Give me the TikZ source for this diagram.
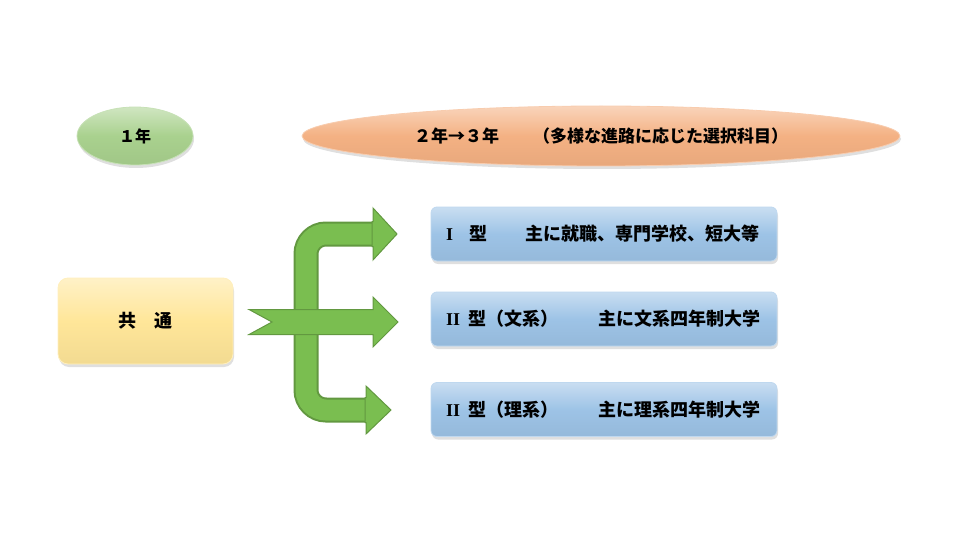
\documentclass[tikz,border=0pt]{standalone}
\usepackage{fontspec}
\setmainfont{Noto Sans CJK JP}
\newfontfamily\romanfont{Liberation Serif}
\usepackage{tikz}
\usetikzlibrary{shapes.geometric}
\usetikzlibrary{shadows}
\definecolor{nengreen}{RGB}{169,209,142}
\definecolor{nenorange}{RGB}{244,177,131}
\definecolor{kyoyellow}{RGB}{255,230,153}
\definecolor{katablue}{RGB}{157,195,230}
\definecolor{yajigreen}{RGB}{122,190,80}
\newcommand{\katawidth}{346pt}
\newcommand{\kataheight}{54pt}
\newcommand{\yajiwidth}{25pt}

\tikzset{
	bevel/.style={top color=#1!55!white, bottom color=#1!95!black, middle color=#1, draw=#1!65!white, line width=0.8pt,
		drop shadow={opacity=0.25, shadow xshift=1pt, shadow yshift=-3pt}},
	nen/.style={ellipse, bevel=#1, inner sep=0pt},
	katabox/.style={rectangle, rounded corners=6pt, bevel=katablue, minimum width=\katawidth, minimum height=\kataheight,
		inner xsep=15pt, text width=316pt, align=left, font=\bfseries\fontsize{18}{20}\selectfont}
}

\begin{document}
\begin{tikzpicture}[x=1pt, y=-1pt]
	\useasboundingbox (0,0) rectangle (960,540);

	\node[nen=nengreen, minimum width=116pt, minimum height=58pt, font=\bfseries\fontsize{16}{18}\selectfont] (nen1) at (135,136) {１年};
	\node[nen=nenorange, minimum width=598pt, minimum height=60pt, font=\bfseries\fontsize{17}{19}\selectfont] (nen23) at (601,136)
		{２年→３年　　（多様な進路に応じた選択科目）};

	\node[rectangle, rounded corners=10pt, bevel=kyoyellow, minimum width=175pt, minimum height=86pt,
		font=\bfseries\fontsize{18}{20}\selectfont] (kyotsu) at (145.5,321) {共　通};

	\node[katabox] (kata1) at (604,234) {{\romanfont I}\hspace{16pt}型\hspace{2pt}　　主に就職、専門学校、短大等};
	\node[katabox] (kata2) at (604,319) {{\romanfont II}\hspace{8pt}型（文系）\hspace{4pt}　　主に文系四年制大学};
	\node[katabox] (kata3) at (604,409.5) {{\romanfont II}\hspace{8pt}型（理系）\hspace{4pt}　　主に理系四年制大学};

	\draw[yajigreen!80!black, line width=\yajiwidth, rounded corners=20pt] (374,234) -- (306,234) -- (306,410) -- (367,410);
	\draw[yajigreen, line width=\yajiwidth-4pt, rounded corners=20pt] (375,234) -- (306,234) -- (306,410) -- (368,410);
	\filldraw[fill=yajigreen, draw=yajigreen!80!black, line width=1pt] (373,208) -- (397,234) -- (373,260) -- (373,246.5) -- (372,246.5) -- (372,221.5) -- (373,221.5) -- cycle;
	\filldraw[fill=yajigreen, draw=yajigreen!80!black, line width=1pt] (366,386) -- (391,410) -- (366,434) -- (366,422.5) -- (365,422.5) -- (365,397.5) -- (366,397.5) -- cycle;
	\filldraw[fill=yajigreen, draw=yajigreen!80!black, line width=1pt] (249,309.5) -- (373,309.5) -- (373,297) -- (398,322) -- (373,347) -- (373,334.5)
		-- (249,334.5) -- (272,322) -- cycle;
\end{tikzpicture}
\end{document}
